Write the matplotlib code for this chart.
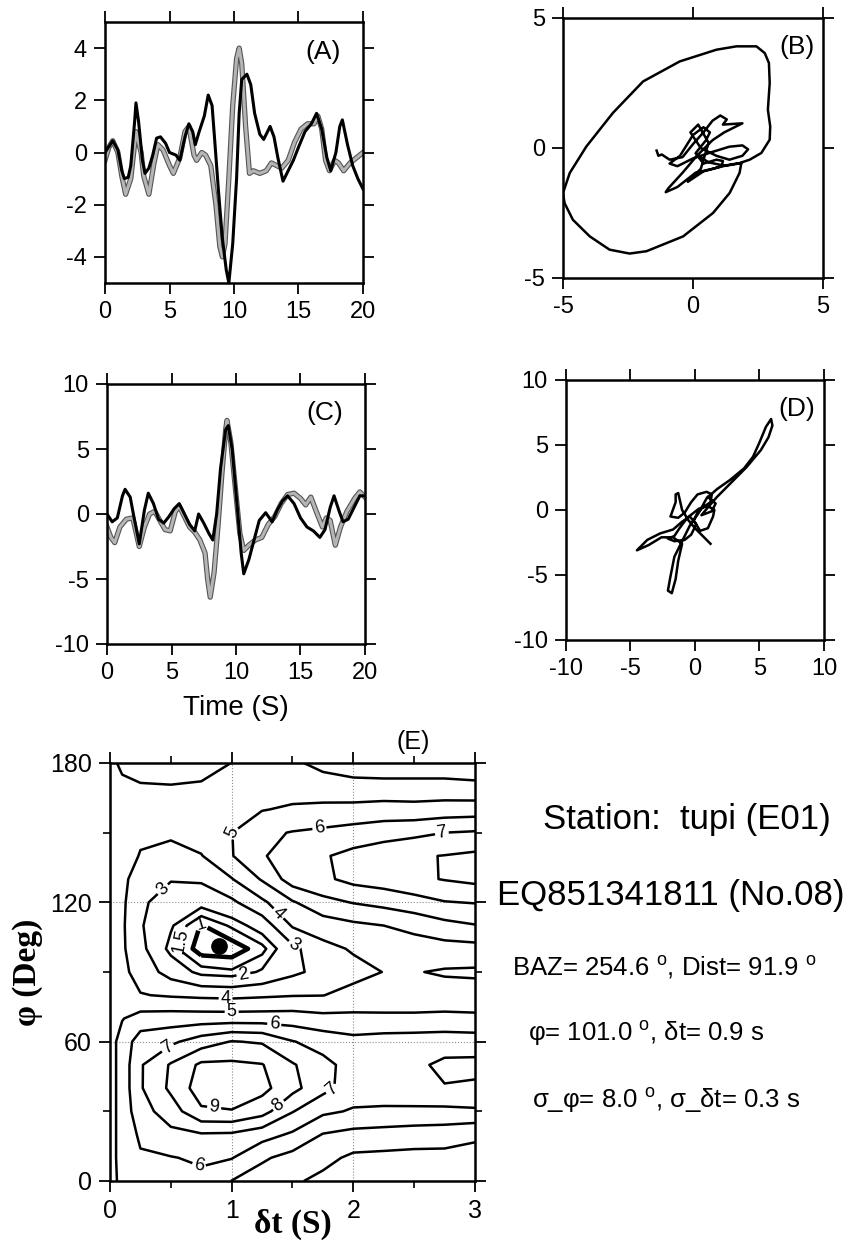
import numpy as np
import matplotlib.pyplot as plt
import matplotlib.patheffects as pe

plt.rcParams['font.family'] = ['Liberation Sans', 'DejaVu Sans']
plt.rcParams['mathtext.fontset'] = 'custom'
plt.rcParams['mathtext.rm'] = 'Liberation Sans'
plt.rcParams['axes.unicode_minus'] = False

# ---- panel A : waveforms (black / grey) ----
a_t_black = [0, 0.6, 1.0, 1.3, 1.5, 1.8, 2.0, 2.3, 2.4, 2.6, 2.9, 3.1, 3.4, 3.7, 4.0, 4.3, 4.7, 5.0, 5.5, 5.8,
             6.2, 6.5, 6.8, 7.0, 7.3, 7.7, 8.0, 8.3, 8.5, 8.8, 9.1, 9.4, 9.6, 9.9, 10.2, 10.4, 10.6, 11.0, 11.3, 11.6,
             12.0, 12.3, 12.8, 13.1, 13.4, 13.8, 14.2, 14.6, 15.0, 15.5, 16.0, 16.4, 16.8, 17.2, 17.5, 17.9, 18.2, 18.4, 18.8, 19.2,
             19.6, 20.0]
a_black = [0.0, 0.45, 0.1, -0.7, -1.0, -0.95, -0.5, 1.2, 1.9, 1.2, -0.3, -0.8, -0.6, -0.1, 0.55, 0.6, 0.35, 0.0, -0.1, -0.3,
           0.6, 1.1, 0.8, 0.3, 0.8, 1.4, 2.2, 1.8, 0.5, -1.5, -3.3, -4.5, -5.0, -3.5, -1.0, 1.5, 2.8, 3.0, 2.6, 1.5,
           0.7, 0.5, 1.0, 0.6, -0.2, -1.1, -0.7, -0.3, 0.2, 0.8, 1.1, 1.5, 0.9, -0.2, -0.7, 0.0, 1.0, 1.25, 0.3, -0.5,
           -1.0, -1.4]
a_t_grey = [0, 0.3, 0.6, 1.0, 1.3, 1.6, 2.0, 2.4, 2.8, 3.0, 3.4, 3.8, 4.1, 4.5, 5.0, 5.3, 5.8, 6.2, 6.5, 6.9,
            7.1, 7.5, 7.8, 8.2, 8.6, 8.9, 9.1, 9.3, 9.6, 9.9, 10.2, 10.4, 10.6, 10.9, 11.2, 11.5, 12.0, 12.5, 12.9, 13.3,
            13.7, 14.2, 14.7, 15.2, 15.7, 16.2, 16.5, 16.8, 17.1, 17.4, 17.8, 18.1, 18.5, 19.0, 19.5, 20.0]
a_grey = [-0.3, 0.2, 0.45, 0.0, -0.9, -1.6, -1.0, 0.8, 0.0, -0.9, -1.6, -0.4, 0.3, 0.1, -0.5, -0.8, -0.2, 0.8, 1.0, -0.1,
          -0.3, 0.0, -0.1, -0.5, -2.0, -3.6, -4.0, -3.5, -1.0, 1.8, 3.6, 4.0, 3.4, 1.0, -0.8, -0.7, -0.8, -0.7, -0.4, -0.5,
          -0.6, -0.3, 0.4, 0.9, 1.1, 1.1, 1.4, 0.9, -0.3, -0.7, -0.3, -0.4, -0.7, -0.4, -0.2, 0.0]

# ---- panel C : corrected waveforms ----
c_t_black = [0, 0.4, 0.8, 1.2, 1.4, 1.8, 2.1, 2.5, 2.9, 3.2, 3.6, 4.0, 4.4, 4.8, 5.2, 5.6, 6.0, 6.4, 6.8, 7.1,
             7.5, 7.9, 8.2, 8.5, 8.8, 9.2, 9.4, 9.7, 10.1, 10.4, 10.6, 11.0, 11.4, 11.8, 12.3, 12.8, 13.2, 13.6, 14.0, 14.5,
             15.0, 15.5, 16.0, 16.5, 16.9, 17.3, 17.6, 18.0, 18.3, 18.7, 19.2, 19.6, 20.0]
c_black = [0.0, -0.6, -0.3, 1.4, 1.9, 1.3, -0.3, -2.3, 0.3, 1.6, 0.8, -0.4, -0.7, -0.2, 0.4, 0.8, 0.0, -0.8, -1.3, 0.0,
           -0.7, -1.5, -2.0, 0.0, 3.5, 6.5, 6.8, 5.0, 0.5, -3.0, -4.6, -3.5, -2.0, -0.5, 0.1, -0.6, 0.3, 1.0, 1.4, 0.8,
           -0.3, -1.0, -1.3, -1.8, -1.2, 0.5, 1.4, 0.2, -0.6, -0.4, 0.6, 1.4, 1.4]
c_t_grey = [0, 0.3, 0.6, 1.0, 1.5, 2.0, 2.5, 2.9, 3.3, 3.7, 4.1, 4.5, 4.9, 5.3, 5.6, 6.0, 6.4, 6.8, 7.2, 7.6,
            7.8, 8.0, 8.3, 8.6, 8.9, 9.2, 9.3, 9.6, 10.0, 10.3, 10.6, 11.0, 11.5, 12.0, 12.5, 13.0, 13.5, 14.0, 14.5, 15.0,
            15.4, 15.8, 16.3, 16.7, 17.0, 17.3, 17.7, 18.1, 18.6, 19.2, 19.6, 20.0]
c_grey = [-1.0, -1.8, -2.2, -1.0, -0.4, -0.3, -2.5, -1.0, 0.0, 0.2, -0.5, -1.2, -1.3, 0.2, 0.6, -0.2, -1.0, -1.4, -2.0, -3.0,
          -5.0, -6.4, -4.5, -1.0, 3.0, 6.5, 7.2, 5.5, 1.5, -1.5, -2.8, -2.4, -2.0, -1.8, -0.8, -0.2, 0.8, 1.5, 1.6, 1.2,
          0.7, 1.3, 0.0, -1.0, -0.3, -0.5, -2.4, -1.0, 0.2, 1.2, 1.7, 1.3]

# ---- panel B : particle motion before correction ----
b_x = [-1.40, -1.33, -1.20, -0.90, -0.40, 0.00, 0.40, 0.75, 1.05, 1.30, 1.15, 1.90, 1.20, 0.75, 0.15, -0.40, -0.95, -1.05,
       -0.60, 0.10, 0.75, 1.10, 1.15, 0.90, 0.40, 0.10, 0.50, 0.65, 0.40, 0.00, -0.50, -0.90, -0.60, 0.00, 0.75, 1.40,
       1.90, 2.12, 1.90, 1.40, 0.90, 0.30, -0.10, 0.20, 0.60, 0.30, -0.20, 0.40, 1.15, 1.86, 1.79, 1.41, 0.77, -0.38,
       -1.79, -2.44, -3.21, -3.97, -4.62, -4.94, -5.00, -4.74, -4.10, -3.08, -1.92, -0.51, 0.90, 1.67, 2.44, 2.76, 2.92,
       2.95, 2.88, 2.97, 2.95, 2.63, 2.18, 1.79, 1.20, 0.60, 0.20]
b_y = [-0.10, -0.30, -0.25, -0.45, -0.35, 0.15, 0.60, 1.05, 1.25, 1.10, 0.90, 0.95, 0.60, 0.30, -0.30, -0.95, -1.55, -1.70,
       -1.50, -0.95, -0.80, -0.70, -0.50, -0.45, -0.60, -0.20, 0.30, 0.60, 0.80, 0.50, -0.30, -0.60, -0.70, -0.40, -0.15, 0.05,
       0.10, -0.05, -0.30, -0.45, -0.30, 0.00, 0.60, 0.90, 0.20, -0.80, -1.30, -0.90, -0.70, -0.58, -0.96, -1.73, -2.50, -3.40,
       -3.97, -4.06, -3.91, -3.40, -2.76, -2.12, -1.73, -0.96, 0.06, 1.35, 2.56, 3.33, 3.78, 3.91, 3.91, 3.65, 3.27,
       2.50, 1.47, 0.83, 0.32, -0.19, -0.45, -0.58, -0.68, -0.55, -0.30]

# ---- panel D : particle motion after correction ----
d_x = [1.2, 0.6, 0.0, -0.5, -1.0, -1.3, -1.5, -1.5, -1.9, -1.3, -0.8, -0.3, 0.2, 0.9, 1.3, 1.2, 0.6, 0.2, -0.1, 0.4,
       1.0, 1.4, 1.5, 1.0, 0.3, -0.6, -1.2, -1.6, -2.1, -1.6, -0.8, -0.3, 0.1, -0.4, -1.0, -1.7, -2.7, -3.7, -4.5, -3.6,
       -2.6, -1.7, -1.0, -1.3, -1.5, -1.8, -2.1, -1.9, -1.6, -1.0, -0.4, 0.3, 0.9, 1.7, 2.7, 3.8, 4.5, 5.0, 5.5, 5.9,
       6.0, 5.7, 5.1, 4.0, 2.7, 1.7, 1.0, 0.5, 1.3, 1.6, 1.0]
d_y = [-2.6, -2.0, -1.4, -0.8, 0.0, 1.3, 1.2, 0.6, -0.5, -0.6, -0.2, 0.6, 1.2, 1.4, 1.2, 0.6, 0.2, -0.2, -0.8, -1.6,
       -1.4, -0.5, 0.0, 0.3, 0.1, -0.6, -1.4, -2.0, -2.2, -2.4, -2.3, -1.9, -1.1, -0.5, -0.9, -1.5, -1.8, -2.3, -3.1, -2.7,
       -2.1, -2.1, -2.6, -3.9, -5.3, -6.4, -6.2, -5.1, -3.6, -2.4, -1.2, -0.2, 0.9, 1.6, 2.3, 3.2, 4.1, 5.2, 6.4, 7.0,
       6.5, 5.6, 4.6, 3.3, 2.0, 1.0, 0.2, -0.4, -0.1, 0.5, 1.0]

# ---- panel E : energy grid (rows: phi 0..180, cols: dt) ----
grid_dt = [0, 0.1, 0.25, 0.5, 0.75, 1.0, 1.25, 1.5, 1.75, 2.0, 2.25, 2.5, 2.75, 3.0]
grid_phi = [0, 10, 20, 30, 40, 50, 60, 70, 80, 90, 100, 110, 120, 130, 140, 150, 160, 170, 180]
energy = [
    [4.6, 5.3, 5.6, 5.7, 5.75, 4.98, 4.5, 4.15, 3.75, 3.5, 3.4, 3.4, 3.4, 3.4],
    [4.6, 5.4, 5.9, 5.95, 6.15, 6.05, 5.15, 4.65, 4.3, 3.8, 3.75, 3.7, 3.7, 3.7],
    [4.6, 5.4, 6.15, 6.75, 6.9, 6.85, 6.4, 5.85, 4.95, 4.7, 4.6, 4.5, 4.45, 4.15],
    [4.6, 5.4, 6.6, 7.5, 8.85, 8.95, 8.4, 7.05, 6.2, 5.9, 5.85, 5.8, 5.75, 5.85],
    [4.6, 5.4, 6.9, 8.2, 9.5, 9.6, 9.3, 8.3, 7.3, 6.5, 6.5, 6.7, 6.95, 6.85],
    [4.6, 5.4, 6.9, 8.1, 9.2, 9.2, 9.05, 8.1, 7.3, 6.6, 6.6, 6.8, 7.2, 7.25],
    [4.6, 5.4, 6.5, 6.8, 7.5, 8.05, 7.9, 7.05, 6.6, 6.3, 6.45, 6.5, 6.55, 6.5],
    [4.6, 4.95, 5.4, 5.5, 5.5, 5.5, 5.5, 5.5, 5.3, 5.25, 5.2, 5.2, 5.25, 5.2],
    [4.6, 4.5, 4.05, 3.9, 3.8, 3.75, 3.85, 3.95, 3.98, 4.3, 4.4, 4.4, 4.4, 4.4],
    [4.6, 4.25, 3.6, 2.6, 1.75, 1.6, 2.1, 2.8, 3.3, 3.7, 4.02, 4.05, 3.9, 3.85],
    [4.6, 4.15, 3.3, 1.75, 0.7, 0.65, 1.3, 2.75, 3.7, 4.1, 4.3, 4.5, 4.6, 4.65],
    [4.6, 4.15, 3.1, 2.1, 0.95, 1.6, 2.4, 4.1, 4.5, 4.8, 5.0, 5.3, 5.7, 5.95],
    [4.6, 4.2, 3.15, 2.6, 2.3, 2.8, 3.8, 4.9, 5.7, 6.05, 6.3, 6.6, 6.95, 7.05],
    [4.6, 4.2, 3.6, 3.05, 3.15, 3.95, 5.1, 6.5, 6.8, 7.3, 7.5, 7.8, 8.05, 8.25],
    [4.6, 4.4, 3.95, 3.6, 3.95, 4.95, 5.85, 6.8, 6.9, 7.3, 7.6, 7.9, 8.03, 8.2],
    [4.6, 4.5, 4.15, 4.2, 4.5, 4.98, 5.8, 6.05, 6.2, 6.4, 6.6, 6.75, 7.0, 7.1],
    [4.6, 4.7, 4.6, 4.6, 4.8, 4.7, 4.95, 5.15, 5.25, 5.3, 5.4, 5.35, 5.45, 5.5],
    [4.6, 4.7, 4.9, 4.95, 4.8, 4.6, 4.6, 4.5, 4.4, 4.3, 4.3, 4.3, 4.3, 4.2],
    [4.6, 5.3, 5.6, 5.7, 5.75, 4.98, 4.5, 4.15, 3.75, 3.5, 3.4, 3.4, 3.4, 3.4],
]
levels = [1, 1.5, 2, 3, 4, 5, 6, 7, 8, 9]
label_pos = [(0.75, 111), (0.56, 104), (1.1, 88), (0.41, 127), (1.52, 102), (1.39, 115.5), (0.95, 77.5),
             (0.99, 150), (1.0, 73), (1.35, 67.5), (1.72, 152.5), (0.73, 6.4), (2.73, 149), (0.48, 57),
             (1.84, 38), (1.41, 31), (0.85, 29)]
best_dt, best_phi = 0.9, 101.0

info = ["Station:  tupi (E01)", "EQ851341811 (No.08)",
        r"BAZ= 254.6 $^{\rm o}$, Dist= 91.9 $^{\rm o}$",
        r"φ= 101.0 $^{\rm o}$, δt= 0.9 s",
        r"σ_φ= 8.0 $^{\rm o}$, σ_δt= 0.3 s"]

W, H = 862, 1246
fig = plt.figure(figsize=(W / 100, H / 100), dpi=100)


def box(x0, y0, x1, y1):
    return fig.add_axes([x0 / W, 1 - y1 / H, (x1 - x0) / W, (y1 - y0) / H])


def style(ax, size=17):
    for s in ax.spines.values():
        s.set_linewidth(1.8)
    ax.tick_params(direction='out', length=8, width=1.3, top=True, right=True, labelsize=size, pad=5)
    ax.tick_params(which='minor', direction='out', length=5, width=1.2, top=True, right=True)


grey_fx = [pe.Stroke(linewidth=3.8, foreground='#555555'), pe.Normal()]

axA = box(105, 22, 363, 283)
axA.plot(a_t_grey, a_grey, color='#b5b5b5', lw=2.2, path_effects=grey_fx)
axA.plot(a_t_black, a_black, color='k', lw=2.2)
axA.set_xlim(0, 20)
axA.set_ylim(-5, 5)
axA.set_xticks([0, 5, 10, 15, 20])
axA.set_yticks([-4, -2, 0, 2, 4])
style(axA)
axA.text(0.845, 0.885, "(A)", transform=axA.transAxes, ha='center', va='center', fontsize=19)

axB = box(563, 18, 823, 278)
axB.plot(b_x, b_y, color='k', lw=1.8)
axB.set_xlim(-5, 5)
axB.set_ylim(-5, 5)
axB.set_xticks([-5, 0, 5])
axB.set_yticks([-5, 0, 5])
style(axB)
axB.text(0.9, 0.89, "(B)", transform=axB.transAxes, ha='center', va='center', fontsize=19)

axC = box(107, 384, 365, 644)
axC.plot(c_t_grey, c_grey, color='#b5b5b5', lw=2.2, path_effects=grey_fx)
axC.plot(c_t_black, c_black, color='k', lw=2.2)
axC.set_xlim(0, 20)
axC.set_ylim(-10, 10)
axC.set_xticks([0, 5, 10, 15, 20])
axC.set_yticks([-10, -5, 0, 5, 10])
style(axC)
axC.text(0.845, 0.89, "(C)", transform=axC.transAxes, ha='center', va='center', fontsize=19)
axC.text(0.5, -0.245, "Time (S)", transform=axC.transAxes, ha='center', va='center', fontsize=20)

axD = box(566, 380, 824, 640)
axD.plot(d_x, d_y, color='k', lw=1.8)
axD.set_xlim(-10, 10)
axD.set_ylim(-10, 10)
axD.set_xticks([-10, -5, 0, 5, 10])
axD.set_yticks([-10, -5, 0, 5, 10])
style(axD)
axD.text(0.895, 0.89, "(D)", transform=axD.transAxes, ha='center', va='center', fontsize=19)

axE = box(110, 763, 475, 1181)
axE.grid(True, ls=':', color='0.55', lw=0.8)
axE.set_axisbelow(True)
lws = [3.2 if lv == 1 else 1.8 for lv in levels]
cs = axE.contour(grid_dt, grid_phi, np.array(energy), levels=levels, colors='k', linewidths=lws)
axE.clabel(cs, levels, fmt=lambda v: f"{v:g}", manual=label_pos, inline=True, inline_spacing=2, fontsize=13)
axE.plot(best_dt, best_phi, 'o', color='k', ms=11)
axE.set_xlim(0, 3)
axE.set_ylim(0, 180)
axE.set_xticks([0, 1, 2, 3])
axE.set_xticks([0.5, 1.5, 2.5], minor=True)
axE.set_yticks([0, 60, 120, 180])
axE.set_yticks([30, 90, 150], minor=True)
style(axE, 18)
axE.text(0.83, 1.05, "(E)", transform=axE.transAxes, ha='center', va='center', fontsize=18)
axE.text(0.5, -0.103, "δt (S)", transform=axE.transAxes, ha='center', va='center', fontsize=24,
         family='Liberation Serif', weight='bold')
axE.text(-0.227, 0.5, "φ (Deg)", transform=axE.transAxes, ha='center', va='center', fontsize=24,
         family='Liberation Serif', weight='bold', rotation=90)

# station / event info
txt_x = [543, 497, 512, 528, 532]
txt_y = [820, 895, 967, 1033, 1100]
txt_size = [25, 25, 18.5, 18.5, 18.5]
for s, x, y, fs in zip(info, txt_x, txt_y, txt_size):
    fig.text(x / W, 1 - y / H, s, ha='left', va='center', fontsize=fs)

fig.savefig("out.png", dpi=100)
